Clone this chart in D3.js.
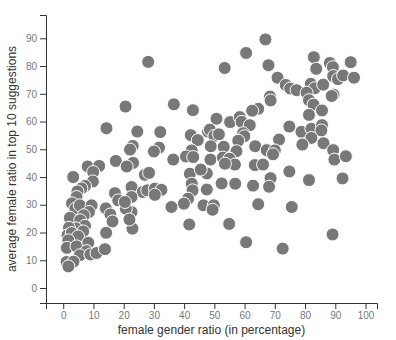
<!DOCTYPE html>
<html>
<head>
<meta charset="utf-8">
<script src="https://cdn.jsdelivr.net/npm/d3@7"></script>
<style>
  body { margin: 0; background: #fff; }
  .axis path, .axis line { stroke: #333; }
  .axis text { fill: #777; font-family: Arial, "Liberation Sans", sans-serif; font-size: 10px; }
  .label { fill: #333; font-family: Arial, "Liberation Sans", sans-serif; font-size: 12px; }
  .dot { fill: #787878; stroke: #fff; stroke-width: 1; }
</style>
</head>
<body>
<svg id="chart" width="396" height="340"></svg>
<script>
// female gender ratio (%)
const femaleRatio = [
  28.1, 20.6, 14.3, 36.6, 42.9, 24.5, 32.1, 42.2, 44.5, 47.9, 23.0, 22.1, 31.7, 30.0, 42.5,
  66.9, 60.5, 53.4, 67.9, 82.9, 83.7, 88.2, 89.2, 95.1, 70.9, 73.6, 75.1, 77.2, 81.9, 83.2,
  86.0, 89.3, 90.9, 92.6, 96.2, 80.5, 81.3, 82.8, 85.6, 89.4, 88.8, 68.4, 68.6, 64.5, 62.5,
  81.3, 50.7, 55.2, 58.4, 59.0, 61.7, 74.8, 78.8, 82.1, 85.6, 85.4, 82.1, 48.5, 50.0, 51.5,
  59.5, 59.9, 57.9, 71.4, 48.8, 53.1, 63.5, 67.3, 70.0, 57.3, 79.1, 86.1, 89.3, 89.7, 93.5,
  48.7, 52.8, 55.0, 56.8, 53.5, 69.4, 63.4, 66.1, 74.8, 81.3, 92.4, 75.6, 89.1, 68.6, 68.1,
  62.8, 56.9, 52.4, 47.5, 47.5, 46.4, 49.8, 49.4, 64.5, 54.9, 60.5, 72.6, 36.4, 40.6, 43.0,
  23.1, 27.0, 28.4, 41.9, 45.5, 42.5, 42.8, 41.3, 39.9, 22.6, 26.3, 27.8, 30.3, 32.5, 30.3,
  22.6, 35.8, 41.7, 22.6, 22.9, 17.4, 8.1, 11.9, 21.0, 3.3, 9.9, 9.8, 7.2, 6.0, 4.7,
  4.4, 2.9, 4.0, 5.5, 9.4, 8.5, 6.8, 2.2, 5.6, 7.2, 4.2, 1.9, 1.4, 2.8, 6.6,
  4.9, 1.7, 1.2, 4.4, 8.3, 7.7, 5.5, 9.0, 11.0, 1.1, 3.4, 1.7, 13.8, 14.2, 14.1,
  15.6, 16.3, 20.7, 21.9, 17.1, 18.2, 20.4
]

// average female ratio in top 10 suggestions
const suggestionRatio = [
  81.5, 65.4, 57.6, 66.2, 64.1, 56.4, 56.2, 55.1, 53.3, 56.4, 51.2, 49.9, 50.6, 49.2, 49.6,
  89.6, 84.7, 79.3, 80.3, 83.2, 79.0, 81.1, 79.6, 81.4, 75.8, 73.2, 71.9, 71.3, 73.6, 72.0,
  73.3, 76.4, 75.3, 76.6, 75.8, 70.4, 67.7, 66.1, 64.0, 69.7, 69.2, 69.0, 67.6, 64.6, 63.9,
  62.4, 61.0, 59.8, 61.6, 59.9, 58.7, 58.2, 56.3, 57.4, 58.7, 56.8, 54.1, 57.1, 54.8, 55.4,
  55.8, 54.7, 53.1, 53.5, 51.1, 50.9, 51.1, 49.7, 49.6, 49.3, 51.7, 52.2, 49.7, 46.3, 47.5,
  46.3, 47.0, 46.6, 44.5, 44.8, 48.2, 44.3, 44.5, 42.0, 38.9, 39.5, 29.2, 19.3, 39.6, 36.5,
  36.9, 37.6, 37.7, 35.5, 41.3, 29.8, 29.8, 28.2, 30.2, 23.1, 16.5, 14.2, 46.3, 47.4, 47.2,
  45.1, 40.8, 41.5, 41.2, 42.7, 37.6, 35.2, 32.2, 30.4, 36.4, 34.6, 35.2, 35.8, 35.4, 33.6,
  32.8, 29.2, 22.9, 27.4, 21.4, 45.8, 43.8, 44.0, 43.8, 40.0, 41.8, 38.4, 36.8, 35.9, 34.8,
  32.8, 30.5, 28.6, 29.8, 29.8, 27.4, 26.2, 25.3, 24.4, 22.4, 21.5, 21.7, 19.0, 19.8, 20.4,
  18.6, 17.2, 14.5, 15.0, 16.3, 13.3, 11.8, 12.1, 12.6, 9.4, 9.5, 7.8, 14.0, 19.9, 28.7,
  26.5, 24.0, 28.6, 24.7, 34.2, 31.6, 31.0
]

const points = femaleRatio.map((x, i) => ({ x: x, y: suggestionRatio[i] }))

const svg = d3.select('#chart')

const x = d3.scaleLinear().domain([-5.7, 103.8]).range([46, 377])
const y = d3.scaleLinear().domain([-5.4, 98.4]).range([303, 15])

// Axes
svg.append('g')
    .attr('class', 'axis')
    .attr('transform', `translate(0,${y.range()[0]})`)
    .call(d3.axisBottom(x).ticks(10))

svg.append('g')
    .attr('class', 'axis')
    .attr('transform', `translate(${x.range()[0]},0)`)
    .call(d3.axisLeft(y).ticks(10))

// Dots
svg.append('g')
    .selectAll('circle')
    .data(points)
    .enter()
    .append('circle')
    .attr('class', 'dot')
    .attr('cx', d => x(d.x))
    .attr('cy', d => y(d.y))
    .attr('r', 6.5)

// Axis titles
svg.append('text')
    .attr('class', 'label')
    .attr('text-anchor', 'middle')
    .attr('x', (x.range()[0] + x.range()[1]) / 2)
    .attr('y', 334)
    .text('female gender ratio (in percentage)')

svg.append('text')
    .attr('class', 'label')
    .attr('text-anchor', 'middle')
    .attr('transform', `translate(16,${(y.range()[0] + y.range()[1]) / 2}) rotate(-90)`)
    .text('average female ratio in top 10 suggestions')
</script>
</body>
</html>
